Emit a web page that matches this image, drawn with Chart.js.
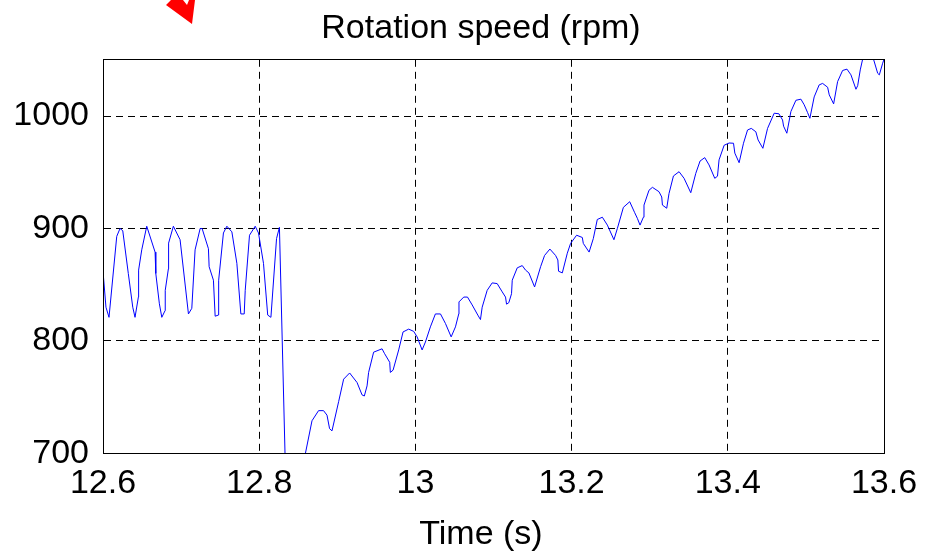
<!DOCTYPE html>
<html>
<head>
<meta charset="utf-8">
<title>Rotation speed</title>
<script src="https://cdn.jsdelivr.net/npm/chart.js@4/dist/chart.umd.min.js"></script>
<style>
    html, body { margin: 0; padding: 0; background: #fff; }
    #wrap { width: 928px; height: 556px; }
</style>
</head>
<body>
<div id="wrap"><canvas id="myChart" width="928" height="556"></canvas></div>
<script>
// values
const timeS = [
    12.6000, 12.6038, 12.6077, 12.6176, 12.6218, 12.6253, 12.6324, 12.6381, 12.6410, 12.6453,
    12.6456, 12.6496, 12.6560, 12.6667, 12.6676, 12.6722, 12.6753, 12.6795, 12.6797, 12.6837,
    12.6840, 12.6901, 12.6987, 12.7094, 12.7137, 12.7179, 12.7244, 12.7269, 12.7350, 12.7359,
    12.7414, 12.7436, 12.7478, 12.7481, 12.7542, 12.7586, 12.7650, 12.7714, 12.7765, 12.7808,
    12.7821, 12.7876, 12.7949, 12.7991, 12.8055, 12.8109, 12.8150, 12.8222, 12.8259, 12.8359,
    12.8676, 12.8760, 12.8824, 12.8868, 12.8901, 12.8932, 12.9017, 12.9081, 12.9158, 12.9253,
    12.9317, 12.9346, 12.9381, 12.9401, 12.9465, 12.9573, 12.9603, 12.9671, 12.9679, 12.9714,
    12.9786, 12.9842, 12.9914, 12.9978, 13.0022, 13.0086, 13.0128, 13.0192, 13.0256, 13.0321,
    13.0385, 13.0458, 13.0513, 13.0555, 13.0558, 13.0619, 13.0667, 13.0727, 13.0799, 13.0833,
    13.0855, 13.0919, 13.0983, 13.1047, 13.1112, 13.1154, 13.1167, 13.1196, 13.1231, 13.1240,
    13.1304, 13.1368, 13.1410, 13.1453, 13.1526, 13.1603, 13.1654, 13.1722, 13.1795, 13.1824,
    13.1833, 13.1881, 13.1945, 13.1987, 13.2064, 13.2137, 13.2150, 13.2224, 13.2278, 13.2329,
    13.2394, 13.2458, 13.2542, 13.2586, 13.2663, 13.2744, 13.2808, 13.2842, 13.2876, 13.2919,
    13.2927, 13.2991, 13.3035, 13.3119, 13.3154, 13.3163, 13.3218, 13.3247, 13.3304, 13.3376,
    13.3440, 13.3526, 13.3590, 13.3645, 13.3705, 13.3760, 13.3833, 13.3868, 13.3888, 13.3953,
    13.4017, 13.4073, 13.4090, 13.4145, 13.4201, 13.4253, 13.4301, 13.4359, 13.4388, 13.4449,
    13.4509, 13.4594, 13.4654, 13.4701, 13.4714, 13.4756, 13.4808, 13.4872, 13.4936, 13.4978,
    13.5022, 13.5051, 13.5106, 13.5170, 13.5214, 13.5278, 13.5299, 13.5355, 13.5406, 13.5470,
    13.5526, 13.5577, 13.5641, 13.5663, 13.5696, 13.5731, 13.5795, 13.5868, 13.5919, 13.5940,
    13.5983, 13.6013
];
const speedRpm = [
    862, 830, 821, 893, 900, 898, 860, 830, 821, 839,
    863, 881, 902, 879, 860, 833, 821, 827, 845, 864,
    887, 902, 890, 824, 829, 881, 900, 900, 882, 866,
    854, 822, 823, 854, 896, 902, 897, 869, 824, 824,
    845, 894, 902, 896, 869, 823, 821, 891, 901, 620,
    729, 738, 738, 734, 722, 720, 746, 766, 771.5, 763,
    752, 751, 760, 772, 790, 793, 789, 781, 772, 774,
    792, 808, 810.5, 808.5, 803.6, 792, 799, 812.5, 824, 824,
    815.5, 803.6, 812.5, 824, 834.7, 839, 839, 832, 823, 819,
    830, 845, 851.6, 851, 843.6, 839, 832.7, 834, 842, 854,
    865, 867, 863, 860.5, 848, 866, 876, 881.7, 876, 872,
    862, 860.5, 878, 886.7, 894, 892, 886.7, 879, 891, 908,
    910, 903, 890, 900, 918.8, 923.8, 914, 909, 903, 910,
    920.8, 934, 936.6, 932.7, 928, 920.8, 918, 931, 946.7, 950.5,
    944.6, 931.8, 949, 960, 963, 956.5, 944.6, 946.5, 961, 974,
    976, 975.8, 967, 958.5, 975.8, 987.6, 989, 986, 978.7, 971.3,
    989, 1002.5, 1002, 996.5, 991, 984.7, 1004, 1014, 1015, 1010,
    1003, 998, 1017, 1027.7, 1029, 1025.6, 1018.8, 1010.8, 1030.6, 1040.5,
    1041.7, 1036.6, 1023.8, 1027, 1041, 1052, 1058, 1050, 1038, 1036.6,
    1047, 1053
];
const xTicks = [12.6, 12.8, 13, 13.2, 13.4, 13.6];
const yTicks = [700, 800, 900, 1000];

Chart.defaults.font.family = "'Liberation Sans', Arial, sans-serif";
Chart.defaults.font.size = 34;
Chart.defaults.color = '#000';

// same pixel snapping Chart.js uses for 1px lines
const snap = px => Math.round(px - 0.5) + 0.5;

// closed box around the plot plus the red mark in the corner
const framePlugin = {
    id: 'frame',
    afterLayout(chart) {
        // y axis is kept narrow so the title centres like the original;
        // widen its box afterwards so the tick labels are not clipped
        chart.scales.y.left = 0;
    },
    afterDraw(chart) {
        const ctx = chart.ctx;
        const a = chart.chartArea;
        const l = snap(a.left), r = snap(a.right), t = snap(a.top), b = snap(a.bottom);
        ctx.save();
        ctx.strokeStyle = '#000';
        ctx.lineWidth = 1;
        ctx.strokeRect(l, t, r - l, b - t);
        ctx.fillStyle = '#ff0000';
        ctx.beginPath();
        ctx.moveTo(166, 5);
        ctx.lineTo(171, 0);
        ctx.lineTo(183, 0);
        ctx.lineTo(187, 5);
        ctx.lineTo(189, 0);
        ctx.lineTo(195, 0);
        ctx.lineTo(192, 24);
        ctx.closePath();
        ctx.fill();
        ctx.restore();
    }
};

function displayGraph() {
    const ctx = document.getElementById('myChart').getContext('2d');
    const points = timeS.map((t, i) => ({ x: t, y: speedRpm[i] }));

    new Chart(ctx, {
        type: 'line',
        data: {
            datasets: [{
                label: 'Rotation speed',
                data: points,
                borderColor: '#0000ff',
                borderWidth: 1,
                pointRadius: 0,
                tension: 0,
                fill: false,
                clip: 0
            }]
        },
        options: {
            responsive: false,
            animation: false,
            layout: {
                padding: { left: 78, right: 44, top: 0, bottom: 0 }
            },
            plugins: {
                legend: { display: false },
                tooltip: { enabled: false },
                title: {
                    display: true,
                    text: 'Rotation speed (rpm)',
                    font: { size: 34, weight: 'normal' },
                    padding: { top: 8, bottom: 11 }
                },
                subtitle: {
                    display: true,
                    position: 'bottom',
                    text: 'Time (s)',
                    font: { size: 34, weight: 'normal', lineHeight: 1.23 },
                    padding: { top: 0, bottom: 0 }
                }
            },
            scales: {
                x: {
                    type: 'linear',
                    min: 12.6,
                    max: 13.6,
                    afterBuildTicks: scale => {
                        scale.ticks = xTicks.map(v => ({ value: v }));
                    },
                    ticks: {
                        padding: 10,
                        maxRotation: 0,
                        callback: v => String(Math.round(v * 10) / 10)
                    },
                    grid: {
                        color: '#000',
                        lineWidth: 1,
                        drawTicks: false
                    },
                    border: { color: '#000', width: 1, dash: [7, 5] }
                },
                y: {
                    min: 700,
                    max: 1050,
                    afterBuildTicks: scale => {
                        scale.ticks = yTicks.map(v => ({ value: v }));
                    },
                    afterFit: scale => {
                        scale.width = 25;
                    },
                    ticks: {
                        padding: 14,
                        callback: v => String(v)
                    },
                    grid: {
                        color: '#000',
                        lineWidth: 1,
                        drawTicks: false
                    },
                    border: { color: '#000', width: 1, dash: [7, 5] }
                }
            }
        },
        plugins: [framePlugin]
    });
}

displayGraph();
</script>
</body>
</html>
